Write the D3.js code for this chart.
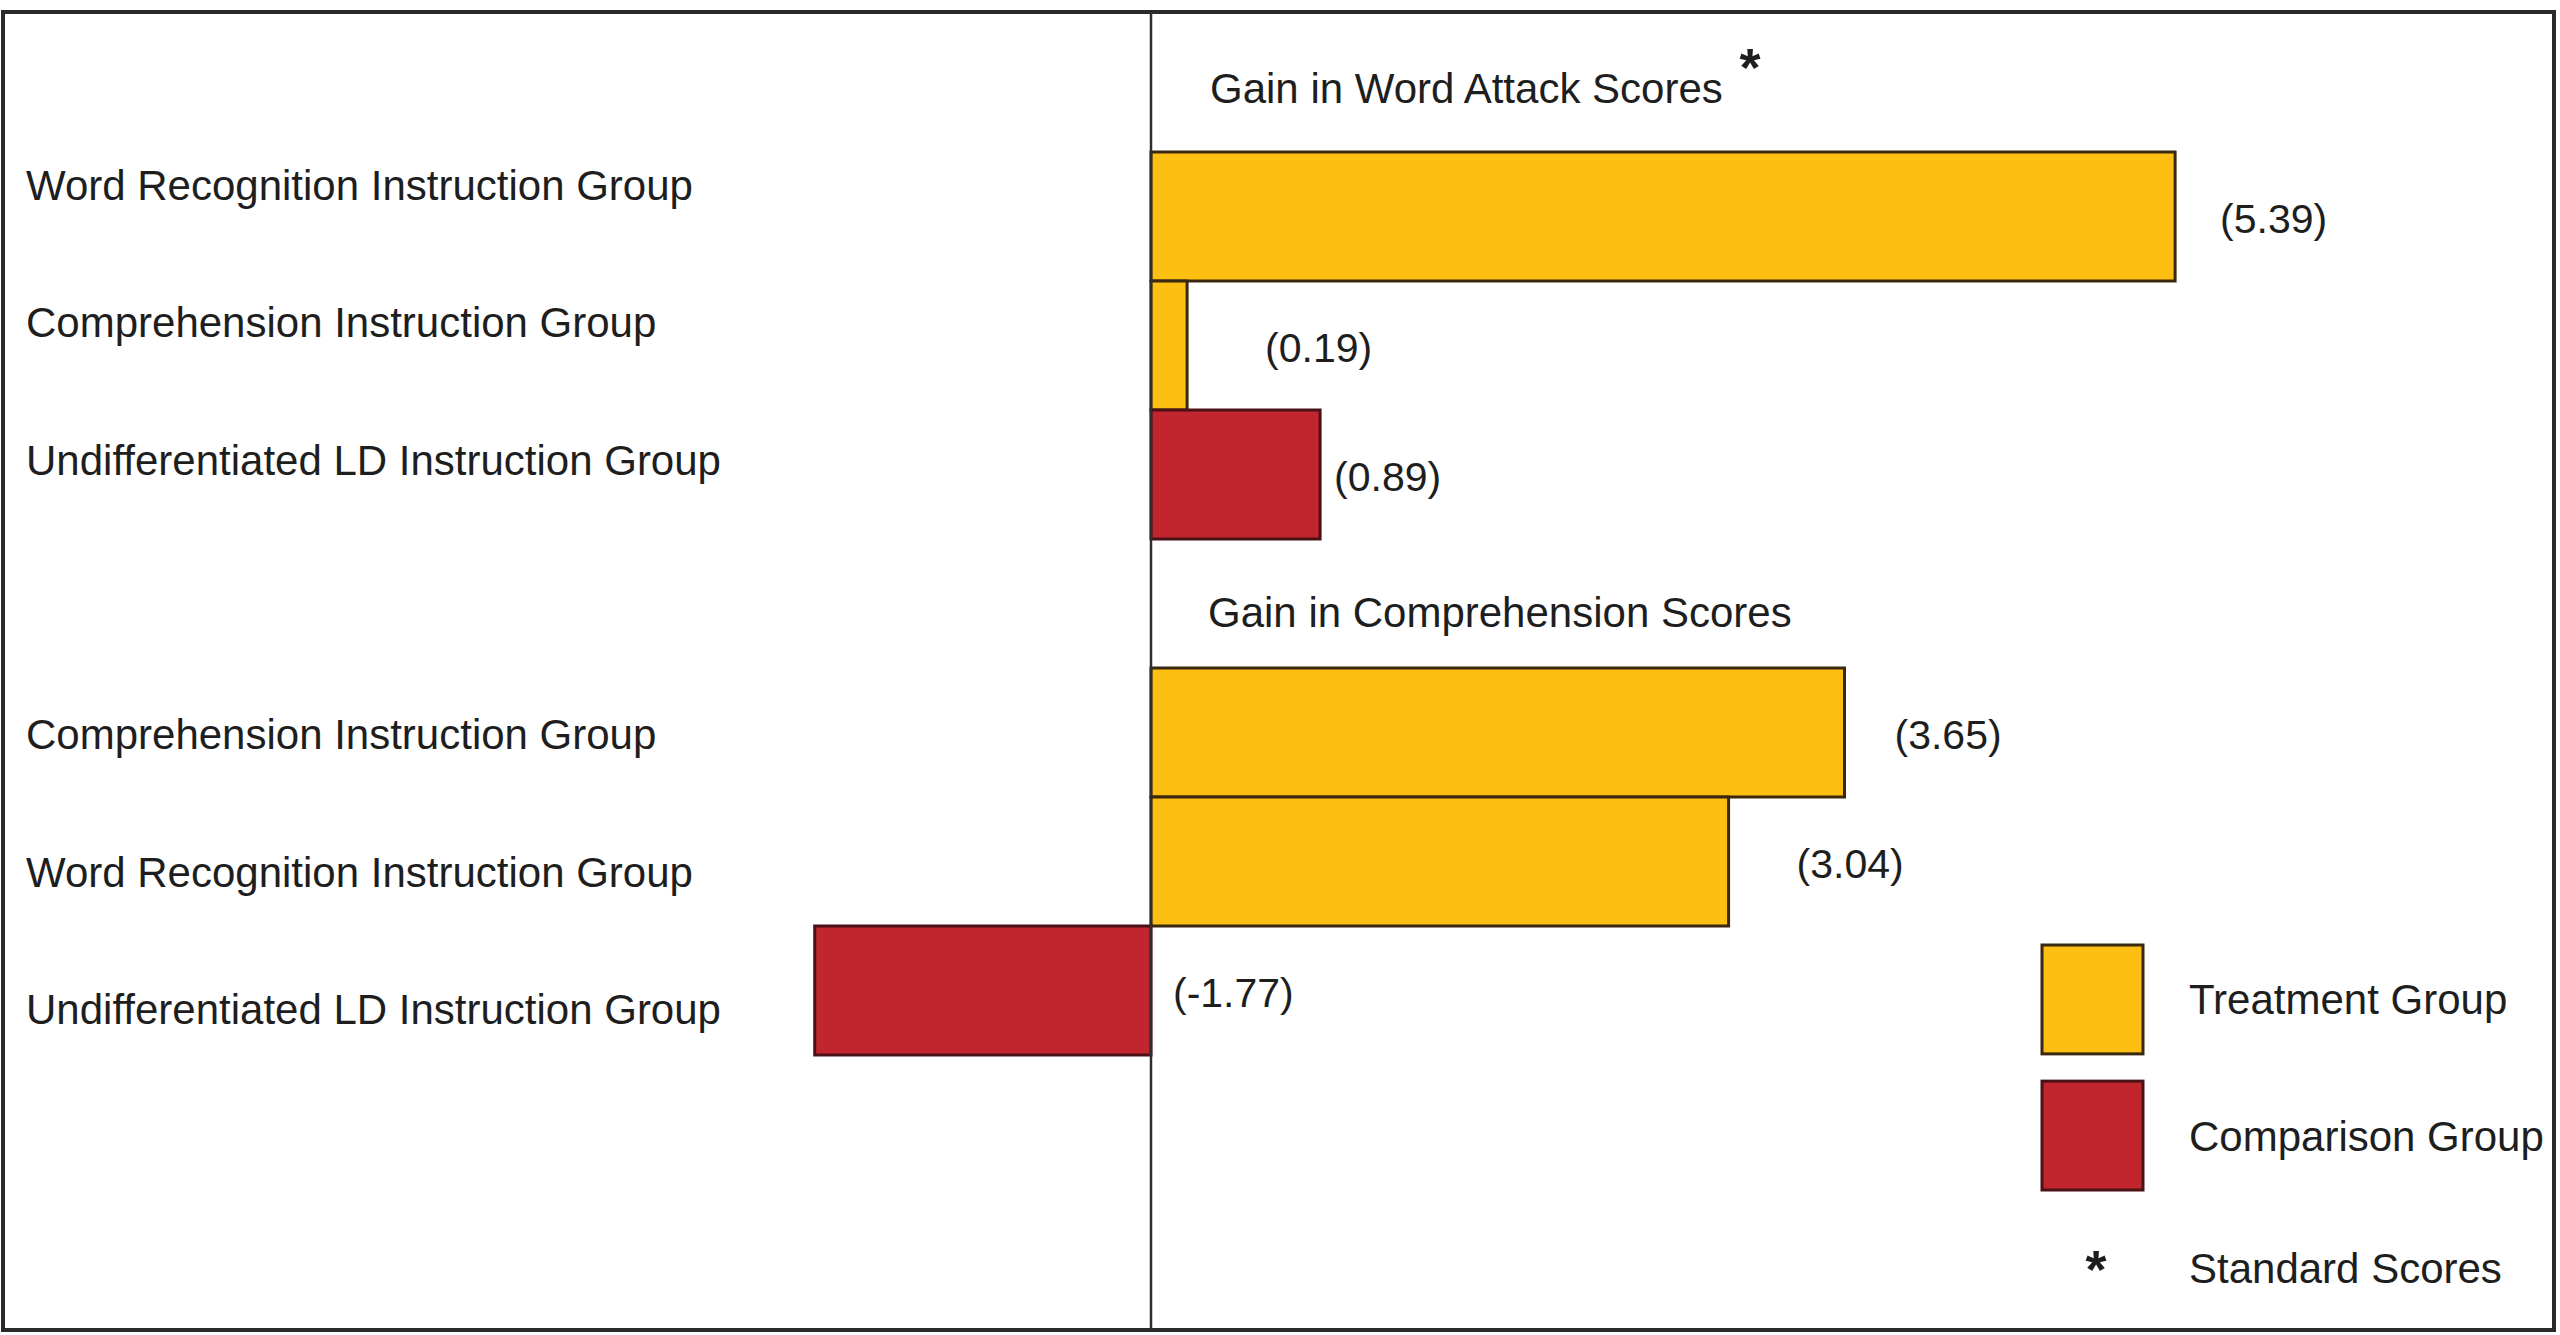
<!DOCTYPE html>
<html>
<head>
<meta charset="utf-8">
<script src="https://cdn.jsdelivr.net/npm/d3@7"></script>
<style>
  html, body { margin: 0; padding: 0; background: #fff; }
  svg { display: block; }
  text { font-family: "Liberation Sans", Arial, Helvetica, sans-serif; fill: #1e1e1e; }
</style>
</head>
<body>
<svg id="chart" width="2560" height="1335"></svg>
<script>
// ---- Data ----
const sections = ["Gain in Word Attack Scores", "Gain in Comprehension Scores"];
const groups = [
  "Word Recognition Instruction Group",
  "Comprehension Instruction Group",
  "Undifferentiated LD Instruction Group",
  "Comprehension Instruction Group",
  "Word Recognition Instruction Group",
  "Undifferentiated LD Instruction Group"
];
const values = [5.39, 0.19, 0.89, 3.65, 3.04, -1.77];
const groupTypes = ["Treatment", "Treatment", "Comparison", "Treatment", "Treatment", "Comparison"];
const barSection = [0, 0, 0, 1, 1, 1];
const legendItems = ["Treatment Group", "Comparison Group"];
const footnote = "Standard Scores";

// ---- Layout / style ----
const W = 2560, H = 1335;
const svg = d3.select("#chart");
const color = d3.scaleOrdinal().domain(["Treatment", "Comparison"]).range(["#FCBF12", "#C1252D"]);
const strokeC = d3.scaleOrdinal().domain(["Treatment", "Comparison"]).range(["#3a2810", "#4a1216"]);
const labelDx = [45, 78, 14, 50, 68, 22];

const x = d3.scaleLinear().domain([0, 1]).range([1151, 1341]);
const slots = d3.range(7);
const y = d3.scaleBand().domain(slots).range([152, 1055]).padding(0);
const yl = d3.scaleBand().domain(slots).range([184 - 68.67, 184 + 6.5 * 137.33]).padding(0);
const slotOf = i => i + barSection[i];

// outer border
svg.append("rect")
  .attr("x", 3).attr("y", 12).attr("width", W - 9).attr("height", 1318)
  .attr("fill", "none").attr("stroke", "#2a2a2a").attr("stroke-width", 4);

// bars
const idx = d3.range(values.length);
svg.append("g").selectAll("rect").data(idx).join("rect")
  .attr("x", i => x(Math.min(0, values[i])))
  .attr("y", i => y(slotOf(i)))
  .attr("width", i => Math.abs(x(values[i]) - x(0)))
  .attr("height", y.bandwidth())
  .attr("fill", i => color(groupTypes[i]))
  .attr("stroke", i => strokeC(groupTypes[i]))
  .attr("stroke-width", 3);

// zero line
svg.append("line")
  .attr("x1", x(0)).attr("x2", x(0)).attr("y1", 12).attr("y2", 1330)
  .attr("stroke", "#2e2e2e").attr("stroke-width", 2.5);

// category labels
svg.append("g").selectAll("text").data(idx).join("text")
  .attr("x", 26)
  .attr("y", i => yl(slotOf(i)) + yl.bandwidth() / 2 + 16)
  .attr("font-size", 42)
  .text(i => groups[i]);

// value labels
svg.append("g").selectAll("text").data(idx).join("text")
  .attr("x", i => x(Math.max(0, values[i])) + labelDx[i])
  .attr("y", i => y(slotOf(i)) + y.bandwidth() / 2 + 16)
  .attr("font-size", 41)
  .text(i => "(" + values[i].toFixed(2) + ")");

// section titles
svg.append("text").attr("x", 1210).attr("y", 103).attr("font-size", 42).text(sections[0]);
svg.append("text").attr("x", 1750).attr("y", 86).attr("font-size", 54).attr("font-weight", "bold")
  .attr("text-anchor", "middle").text("*");
svg.append("text").attr("x", 1208).attr("y", 627).attr("font-size", 42).text(sections[1]);

// legend
const lg = svg.append("g");
const legY = d3.scaleBand().domain([0, 1]).range([945, 1190]).paddingInner(0.2);
lg.selectAll("rect").data([0, 1]).join("rect")
  .attr("x", 2042).attr("y", k => legY(k))
  .attr("width", 101).attr("height", legY.bandwidth())
  .attr("fill", k => color(k === 0 ? "Treatment" : "Comparison"))
  .attr("stroke", k => strokeC(k === 0 ? "Treatment" : "Comparison"))
  .attr("stroke-width", 3);
lg.selectAll("text.item").data([0, 1]).join("text")
  .attr("class", "item")
  .attr("x", 2189).attr("y", k => legY(k) + legY.bandwidth() / 2 + 15)
  .attr("font-size", 42)
  .text(k => legendItems[k]);
lg.append("text").attr("x", 2096).attr("y", 1288).attr("font-size", 54).attr("font-weight", "bold")
  .attr("text-anchor", "middle").text("*");
lg.append("text").attr("x", 2189).attr("y", 1283).attr("font-size", 42).text(footnote);
</script>
</body>
</html>
